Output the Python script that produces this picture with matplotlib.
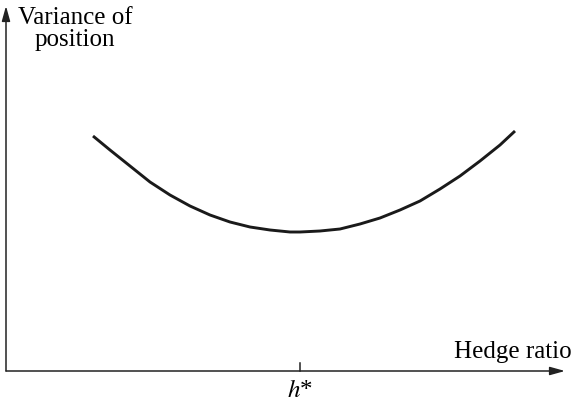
import matplotlib
matplotlib.use('Agg')
import matplotlib.pyplot as plt

plt.rcParams['font.family'] = ['Liberation Serif', 'DejaVu Serif']
plt.rcParams['mathtext.fontset'] = 'stix'

# curve (arbitrary units, origin at the axes corner)
hedge = [87, 104, 124, 144, 164, 184, 204, 224, 244, 264, 284, 294,
         314, 334, 354, 374, 394, 414, 434, 454, 474, 494, 509]
variance = [235, 221, 205, 189, 176, 165, 156, 149, 144, 141, 139, 139,
            140, 142, 147, 153, 161, 170, 182, 195, 210, 226, 240]
h_star = 294

fig = plt.figure(figsize=(5.76, 4.02), dpi=100)
ax = fig.add_axes([0, 0, 1, 1])
ax.set_xlim(-6, 570)
ax.set_ylim(-30, 372)
ax.axis('off')

# axes with arrow heads
arrow = dict(arrowstyle='-|>,head_length=0.9,head_width=0.25', lw=1.1,
             color='#222222', shrinkA=0, shrinkB=0)
ax.annotate('', xy=(559, 0), xytext=(0, 0), arrowprops=arrow)
ax.annotate('', xy=(0, 365), xytext=(0, 0), arrowprops=arrow)

ax.plot(hedge, variance, color='#1a1a1a', lw=2.1, solid_capstyle='butt',
        solid_joinstyle='round')

# tick at the optimal hedge ratio
ax.plot([h_star, h_star], [0, 8], color='#222222', lw=1.1)
ax.text(h_star, -19, '$h$*', ha='center', va='center', fontsize=18)

ax.text(566, 372 - 352, 'Hedge ratio', ha='right', va='center', fontsize=18)
ax.text(69, 372 - 29, 'Variance of\nposition', ha='center', va='center',
        fontsize=18, linespacing=0.95)

fig.savefig('out.png', dpi=100)
